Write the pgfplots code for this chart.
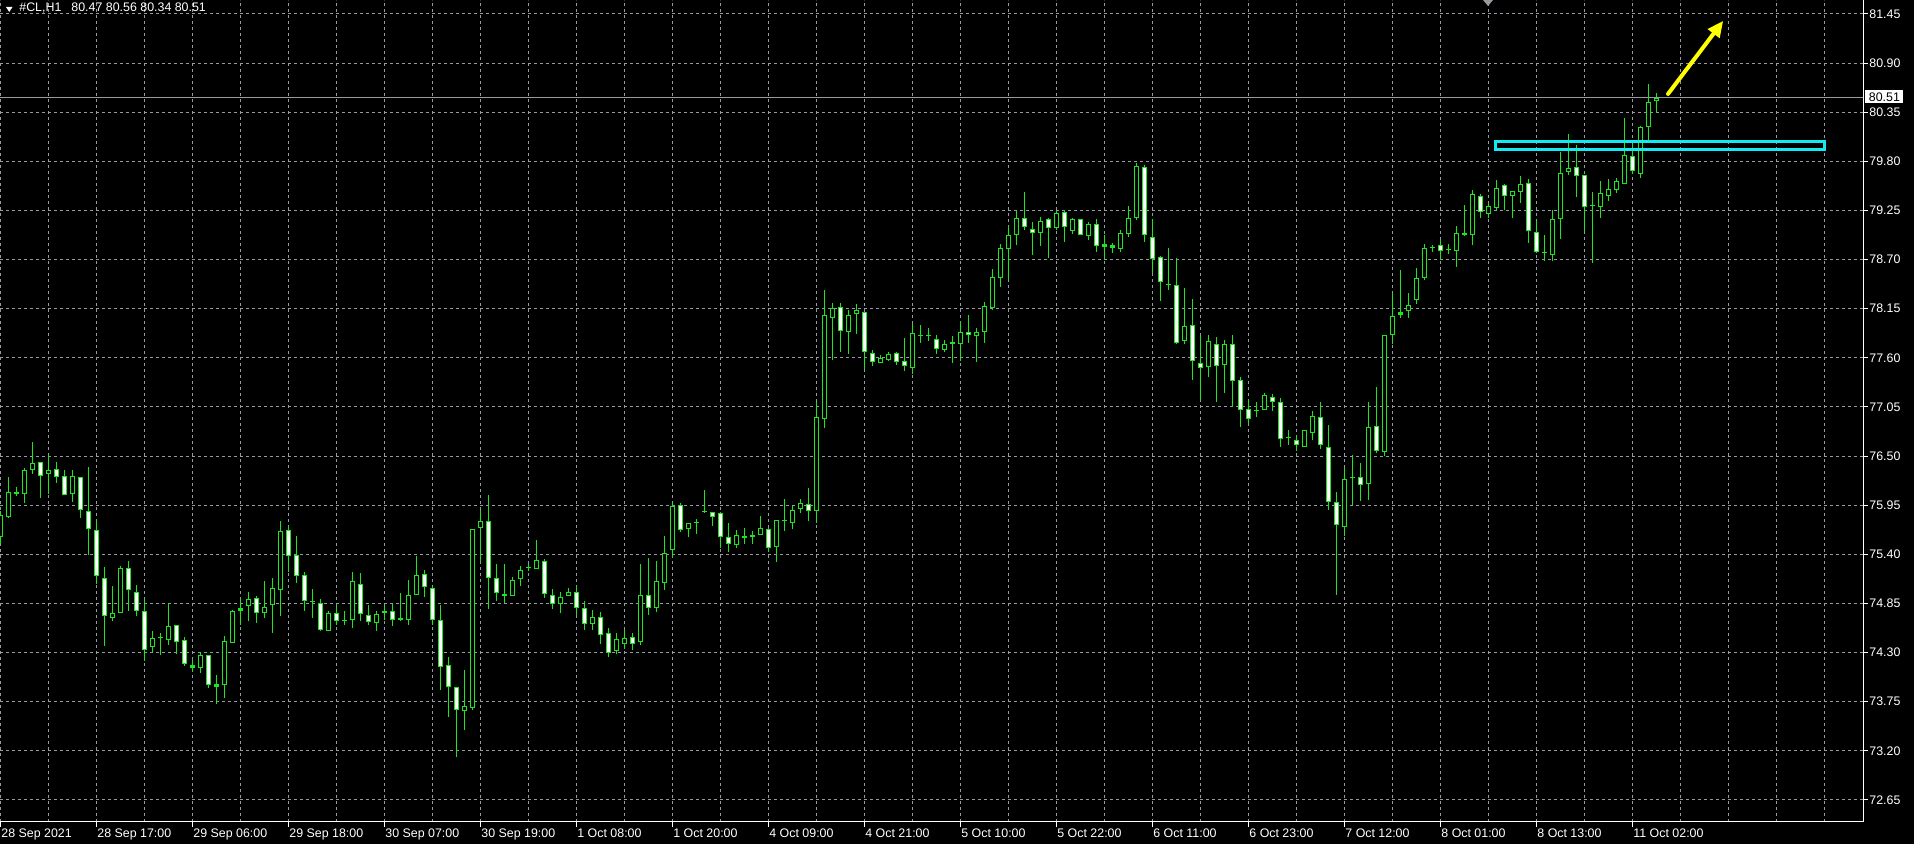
\documentclass[border=0pt]{standalone}
\usepackage{pgfplots}
\pgfplotsset{compat=1.18}
\usepackage{pgfplotstable}
\usepackage{fontspec}
\setmainfont{Liberation Sans}
\usetikzlibrary{arrows.meta}
\definecolor{cgreen}{RGB}{30,230,30}
\definecolor{gridc}{RGB}{150,155,162}
\definecolor{cyanc}{RGB}{20,232,240}
\definecolor{yellowc}{RGB}{255,255,0}

\pgfplotstableread{
i O H L C
0 75.59 75.89 75.52 75.84
1 75.82 76.27 75.81 76.10
2 76.10 76.15 76.05 76.07
3 76.08 76.37 75.97 76.34
4 76.34 76.66 76.30 76.42
5 76.43 76.43 76.03 76.28
6 76.30 76.51 76.08 76.34
7 76.35 76.43 76.20 76.27
8 76.28 76.34 76.06 76.06
9 76.07 76.34 75.99 76.28
10 76.27 76.27 75.81 75.90
11 75.89 76.38 75.39 75.68
12 75.67 75.79 75.07 75.16
13 75.14 75.26 74.37 74.71
14 74.69 75.05 74.65 74.74
15 74.74 75.27 74.74 75.25
16 75.25 75.33 74.77 75.00
17 74.98 75.06 74.71 74.76
18 74.77 74.90 74.21 74.33
19 74.36 74.54 74.31 74.46
20 74.46 74.52 74.27 74.46
21 74.44 74.85 74.39 74.60
22 74.61 74.61 74.28 74.42
23 74.44 74.47 74.15 74.17
24 74.16 74.23 74.08 74.13
25 74.13 74.29 74.07 74.27
26 74.27 74.27 73.90 73.94
27 73.95 74.05 73.72 73.92
28 73.94 74.48 73.79 74.43
29 74.41 74.78 74.41 74.77
30 74.77 74.90 74.61 74.80
31 74.82 74.98 74.65 74.90
32 74.91 74.93 74.63 74.74
33 74.74 75.10 74.69 74.81
34 74.83 75.14 74.52 75.02
35 75.00 75.77 74.71 75.66
36 75.67 75.72 75.20 75.38
37 75.39 75.61 75.08 75.16
38 75.17 75.20 74.77 74.88
39 74.87 75.01 74.69 74.87
40 74.86 74.90 74.54 74.55
41 74.54 74.77 74.54 74.74
42 74.74 74.83 74.61 74.65
43 74.67 74.76 74.61 74.65
44 74.66 75.20 74.58 75.10
45 75.07 75.19 74.65 74.73
46 74.72 74.83 74.61 74.64
47 74.63 74.77 74.54 74.73
48 74.74 74.82 74.67 74.76
49 74.76 74.84 74.60 74.66
50 74.67 74.97 74.65 74.67
51 74.67 75.11 74.61 74.95
52 74.94 75.38 74.94 75.17
53 75.18 75.22 74.92 75.03
54 75.02 75.05 74.61 74.67
55 74.66 74.83 73.88 74.14
56 74.16 74.25 73.58 73.92
57 73.92 73.92 73.13 73.66
58 73.65 74.10 73.43 73.70
59 73.68 75.68 73.66 75.68
60 75.69 75.90 75.31 75.77
61 75.77 76.06 74.79 75.13
62 75.14 75.29 74.88 74.97
63 74.96 75.29 74.85 74.93
64 74.93 75.15 74.93 75.11
65 75.12 75.27 75.04 75.22
66 75.25 75.29 75.21 75.25
67 75.24 75.56 75.23 75.34
68 75.32 75.35 74.91 74.96
69 74.95 75.01 74.79 74.84
70 74.84 74.98 74.74 74.92
71 74.93 75.02 74.93 74.98
72 74.98 75.05 74.72 74.80
73 74.80 74.88 74.55 74.62
74 74.62 74.78 74.55 74.70
75 74.70 74.75 74.40 74.50
76 74.52 74.58 74.25 74.30
77 74.32 74.52 74.28 74.45
78 74.40 74.55 74.34 74.46
79 74.47 74.52 74.33 74.40
80 74.42 75.29 74.38 74.95
81 74.95 75.36 74.72 74.80
82 74.80 75.32 74.75 75.10
83 75.08 75.61 75.00 75.42
84 75.45 75.97 75.36 75.94
85 75.95 75.97 75.65 75.67
86 75.68 75.75 75.59 75.75
87 75.75 75.79 75.63 75.75
88 75.89 76.12 75.86 75.87
89 75.87 75.87 75.72 75.82
90 75.86 75.87 75.47 75.59
91 75.59 75.75 75.43 75.52
92 75.50 75.67 75.47 75.62
93 75.61 75.70 75.52 75.58
94 75.59 75.66 75.52 75.62
95 75.62 75.83 75.62 75.69
96 75.68 75.69 75.43 75.47
97 75.48 75.78 75.31 75.78
98 75.77 76.02 75.66 75.77
99 75.75 75.94 75.68 75.90
100 75.91 76.02 75.86 75.97
101 75.96 76.14 75.77 75.88
102 75.89 77.11 75.75 76.94
103 76.92 78.36 76.81 78.08
104 78.04 78.21 77.58 78.16
105 78.17 78.21 77.67 77.90
106 77.89 78.14 77.64 78.08
107 78.09 78.20 77.87 78.13
108 78.11 78.11 77.47 77.66
109 77.65 77.69 77.51 77.55
110 77.54 77.63 77.54 77.60
111 77.57 77.66 77.56 77.64
112 77.65 77.67 77.52 77.55
113 77.56 77.82 77.45 77.51
114 77.49 77.98 77.42 77.88
115 77.86 77.97 77.77 77.84
116 77.84 77.93 77.79 77.84
117 77.81 77.86 77.64 77.70
118 77.69 77.80 77.66 77.75
119 77.76 77.84 77.54 77.76
120 77.75 78.01 77.56 77.89
121 77.89 78.08 77.77 77.85
122 77.84 77.93 77.55 77.89
123 77.89 78.23 77.77 78.18
124 78.16 78.59 78.13 78.50
125 78.49 78.87 78.39 78.83
126 78.82 79.07 78.47 78.97
127 78.98 79.24 78.86 79.16
128 79.16 79.46 79.03 79.06
129 79.04 79.12 78.75 79.00
130 79.00 79.18 78.85 79.13
131 79.15 79.17 78.72 79.05
132 79.05 79.24 79.03 79.22
133 79.23 79.25 78.90 79.06
134 79.02 79.17 78.99 79.15
135 79.15 79.15 78.98 78.98
136 78.96 79.12 78.92 79.10
137 79.10 79.15 78.79 78.85
138 78.87 78.98 78.71 78.84
139 78.86 78.89 78.77 78.83
140 78.82 79.03 78.79 79.00
141 78.99 79.30 78.95 79.17
142 79.16 79.78 79.14 79.75
143 79.74 79.76 78.90 78.97
144 78.95 79.15 78.55 78.71
145 78.73 78.74 78.24 78.45
146 78.43 78.83 78.36 78.41
147 78.42 78.72 77.76 77.77
148 77.79 78.38 77.76 77.96
149 77.97 78.26 77.35 77.56
150 77.54 77.84 77.13 77.49
151 77.50 77.85 77.38 77.79
152 77.76 77.83 77.10 77.51
153 77.52 77.80 77.21 77.75
154 77.76 77.85 77.05 77.34
155 77.35 77.38 76.82 77.02
156 77.03 77.13 76.87 76.92
157 77.00 77.10 76.94 77.00
158 77.02 77.21 77.02 77.18
159 77.16 77.20 77.00 77.11
160 77.10 77.15 76.60 76.69
161 76.70 76.79 76.62 76.70
162 76.68 76.72 76.56 76.62
163 76.60 76.79 76.60 76.79
164 76.76 77.00 76.68 76.95
165 76.94 77.10 76.58 76.62
166 76.60 76.85 75.90 75.99
167 75.99 76.10 74.95 75.73
168 75.71 76.37 75.60 76.24
169 76.25 76.51 75.95 76.25
170 76.27 76.42 76.00 76.18
171 76.19 77.10 76.01 76.83
172 76.84 77.27 76.53 76.56
173 76.55 77.85 76.50 77.85
174 77.86 78.32 77.76 78.07
175 78.11 78.58 78.05 78.08
176 78.12 78.33 78.05 78.19
177 78.25 78.60 78.20 78.49
178 78.49 78.87 78.47 78.83
179 78.83 78.86 78.79 78.83
180 78.86 78.92 78.70 78.80
181 78.81 78.87 78.76 78.81
182 78.80 79.08 78.62 79.00
183 78.98 79.31 78.96 78.98
184 78.98 79.48 78.86 79.43
185 79.41 79.43 79.16 79.23
186 79.21 79.33 79.17 79.30
187 79.28 79.59 79.26 79.50
188 79.53 79.55 79.25 79.41
189 79.41 79.47 79.16 79.47
190 79.46 79.64 79.33 79.55
191 79.56 79.60 78.89 79.02
192 79.01 79.13 78.77 78.79
193 78.77 78.97 78.68 78.77
194 78.75 79.25 78.68 79.15
195 79.15 79.90 78.93 79.67
196 79.68 80.10 79.65 79.73
197 79.74 79.98 79.40 79.64
198 79.65 79.65 79.02 79.29
199 79.30 79.46 78.66 79.30
200 79.29 79.58 79.17 79.45
201 79.41 79.60 79.36 79.49
202 79.48 79.61 79.45 79.58
203 79.55 80.28 79.55 79.87
204 79.86 79.99 79.66 79.69
205 79.66 80.19 79.61 80.18
206 80.18 80.66 80.03 80.46
207 80.47 80.56 80.34 80.51
}\candles

\pgfplotsset{candlebar/.style={forget plot, only marks, mark=*, mark size=0pt,
  mark options={draw=none, fill=none},
  error bars/.cd, y dir=plus, y explicit, error mark=none}}

\begin{document}
\begin{tikzpicture}[x=0.5pt,y=0.5pt]
\fill[black] (0,0) rectangle (1914,844);
\begin{axis}[
  at={(0pt,11pt)}, anchor=south west,
  scale only axis, width=931.5pt, height=411pt,
  xmin=0, xmax=232.875, ymin=72.404, ymax=81.607,
  axis x line*=bottom, axis y line*=right,
  axis line style={white, line width=0.5pt},
  xtick={0,12,24,36,48,60,72,84,96,108,120,132,144,156,168,180,192,204},
  xticklabels={28 Sep 2021,28 Sep 17:00,29 Sep 06:00,29 Sep 18:00,30 Sep 07:00,30 Sep 19:00,1 Oct 08:00,1 Oct 20:00,4 Oct 09:00,4 Oct 21:00,5 Oct 10:00,5 Oct 22:00,6 Oct 11:00,6 Oct 23:00,7 Oct 12:00,8 Oct 01:00,8 Oct 13:00,11 Oct 02:00},
  minor xtick={6,18,30,42,54,66,78,90,102,114,126,138,150,162,174,186,198,210,216,222,228},
  ytick={72.65,73.20,73.75,74.30,74.85,75.40,75.95,76.50,77.05,77.60,78.15,78.70,79.25,79.80,80.35,80.90,81.45},
  grid=both,
  major grid style={gridc, dash pattern=on 1.5pt off 1.5pt, line width=0.5pt},
  minor grid style={gridc, dash pattern=on 1.5pt off 1.5pt, line width=0.5pt},
  minor tick length=0pt, major tick length=2.5pt, tick align=outside,
  tick style={white, line width=0.5pt},
  ticklabel style={font=\fontsize{6.2}{7}\selectfont, text=white},
  xticklabel style={anchor=north west, inner sep=0pt, xshift=0.5pt, yshift=-1pt},
  y tick label style={/pgf/number format/fixed, /pgf/number format/fixed zerofill, /pgf/number format/precision=2, /pgf/number format/assume math mode=true},
  yticklabel style={anchor=west, inner sep=0pt, xshift=0.5pt},
  clip=true,
]
% current price line
\addplot[forget plot, gridc, line width=0.5pt] coordinates {(0,80.51) (233,80.51)};
% wicks
\addplot[candlebar, error bar style={cgreen, line width=0.5pt, solid}]
  table[x=i, y=L, y error plus expr={\thisrow{H}-\thisrow{L}}] {\candles};
% bodies outline
\addplot[candlebar, error bar style={cgreen, line width=2.5pt, solid}]
  table[x=i, y expr={min(\thisrow{O},\thisrow{C})}, y error plus expr={max(abs(\thisrow{C}-\thisrow{O}),0.012)}] {\candles};
% bull bodies (black)
\addplot[candlebar, error bar style={black, line width=1.5pt, solid}]
  table[x=i, y expr={ifthenelse(\thisrow{C}-\thisrow{O}>0.03, \thisrow{O}+0.0112, 0)}, y error plus expr={max(\thisrow{C}-\thisrow{O}-0.0224,0)}] {\candles};
% bear bodies (white)
\addplot[candlebar, error bar style={white, line width=1.5pt, solid}]
  table[x=i, y expr={ifthenelse(\thisrow{O}-\thisrow{C}>0.03, \thisrow{C}+0.0112, 0)}, y error plus expr={max(\thisrow{O}-\thisrow{C}-0.0224,0)}] {\candles};
% cyan rectangle
\draw[cyanc, line width=1.65pt] (axis cs:186.9,80.02) rectangle (axis cs:228.1,79.935);
% yellow arrow
\draw[yellowc, line width=2pt, line cap=round, -{Triangle[length=8pt,width=7pt]}] (axis cs:208.5,80.554) -- (axis cs:215.4,81.372);
\end{axis}
% header
\fill[white] (6,837) -- (12.5,837) -- (9.25,832) -- cycle;
\node[anchor=west, inner sep=0pt, text=white, font=\fontsize{6.2}{7}\selectfont] at (19,836) {\#CL,H1\hspace{5pt}80.47 80.56 80.34 80.51};
% shift marker
\fill[gridc] (1483,844) -- (1493,844) -- (1488,838) -- cycle;
% price label
\node[fill=white, text=black, inner sep=0pt, minimum width=19pt, minimum height=6.5pt, anchor=west, font=\fontsize{6.2}{7}\selectfont] at (1865,747) {80.51};
\pgfresetboundingbox
\path[use as bounding box] (0,0) rectangle (1914,844);
\end{tikzpicture}
\end{document}
